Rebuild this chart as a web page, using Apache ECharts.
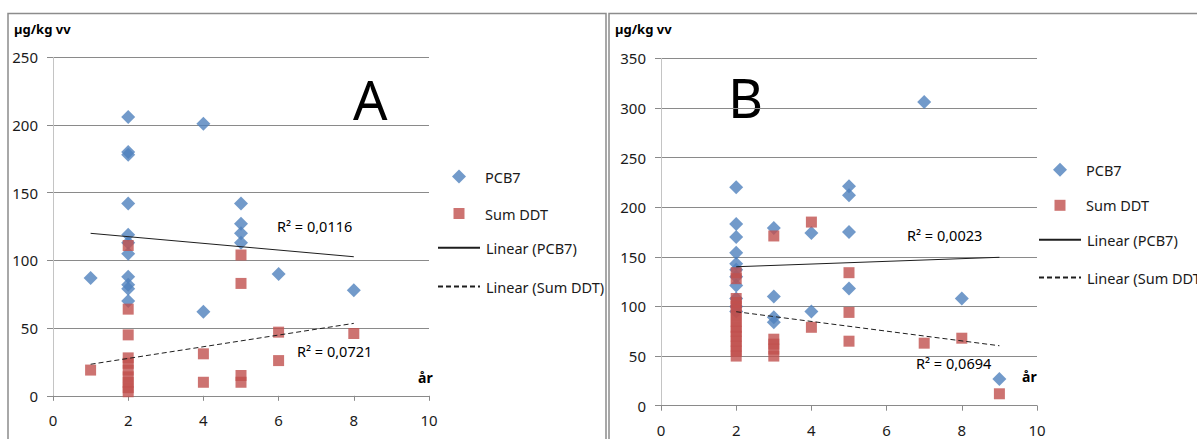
<!DOCTYPE html>
<html>
<head>
<meta charset="utf-8">
<script src="https://cdn.jsdelivr.net/npm/echarts@6/dist/echarts.min.js"></script>
<style>
  html, body { margin: 0; padding: 0; background: #fff; }
  #chart { width: 1197px; height: 439px; }
</style>
</head>
<body>
<div id="chart"></div>
<script>
// Panel A: age (år) vs concentration (µg/kg vv)
const pcbA = [
  [1, 87],
  [2, 206], [2, 180], [2, 178], [2, 142], [2, 119], [2, 113], [2, 105], [2, 88], [2, 82], [2, 79], [2, 70],
  [4, 201], [4, 62],
  [5, 142], [5, 127], [5, 120], [5, 113],
  [6, 90],
  [8, 78]
];
const ddtA = [
  [1, 19],
  [2, 111], [2, 64], [2, 45], [2, 28], [2, 24], [2, 19], [2, 14], [2, 10], [2, 6], [2, 3],
  [4, 31], [4, 10],
  [5, 104], [5, 83], [5, 15], [5, 10],
  [6, 47], [6, 26],
  [8, 46]
];
const pcbTrendA = [[1, 120], [8, 102.7]];
const ddtTrendA = [[1, 23.3], [8, 53.5]];
const r2A = ['R\u00b2 = 0,0116', 'R\u00b2 = 0,0721'];

// Panel B
const pcbB = [
  [2, 220], [2, 183], [2, 170], [2, 154], [2, 143], [2, 137], [2, 130], [2, 121], [2, 108], [2, 100], [2, 95],
  [3, 179], [3, 110], [3, 89], [3, 84],
  [4, 174], [4, 95],
  [5, 221], [5, 212], [5, 175], [5, 118],
  [7, 306],
  [8, 108],
  [9, 27]
];
const ddtB = [
  [2, 134], [2, 128], [2, 108], [2, 104], [2, 100], [2, 96], [2, 90], [2, 85], [2, 79], [2, 75], [2, 70], [2, 65], [2, 60], [2, 55], [2, 50],
  [3, 171], [3, 67], [3, 62], [3, 57], [3, 50],
  [4, 185], [4, 79],
  [5, 134], [5, 94], [5, 65],
  [7, 63],
  [8, 68],
  [9, 12]
];
const pcbTrendB = [[2, 140], [9, 149.5]];
const ddtTrendB = [[2, 94.7], [9, 60.4]];
const r2B = ['R\u00b2 = 0,0023', 'R\u00b2 = 0,0694'];

const yMaxA = 250, yMaxB = 350, yStep = 50;
const xMax = 10, xStep = 2;

const seriesNames = ['PCB7', 'Sum DDT', 'Linear (PCB7)', 'Linear (Sum DDT)'];
const unitLabel = '\u00b5g/kg vv';
const xLabel = '\u00e5r';

const FONT = '"Noto Sans", "DejaVu Sans", sans-serif';
const BLUE = '#4f81bd';
const RED = '#c0504d';
const TREND = '#1e1e1e';
const GRID = '#8a8a8a';

function xAxisCfg(gridIndex) {
  return {
    type: 'value', gridIndex, min: 0, max: xMax, interval: xStep,
    axisLine: { show: true, onZero: false, lineStyle: { color: GRID, width: 1 } },
    axisTick: { show: true, length: 5, lineStyle: { color: GRID } },
    splitLine: { show: false },
    axisLabel: { color: '#1a1a1a', fontFamily: FONT, fontSize: 15, margin: 17 }
  };
}
function yAxisCfg(gridIndex, max) {
  return {
    type: 'value', gridIndex, min: 0, max, interval: yStep,
    axisLine: { show: true, lineStyle: { color: '#c4c4c4', width: 1 } },
    axisTick: { show: true, length: 6, lineStyle: { color: GRID } },
    splitLine: { show: true, lineStyle: { color: GRID, width: 1 } },
    axisLabel: { color: '#1a1a1a', fontFamily: FONT, fontSize: 15, margin: 15 }
  };
}
function scatter(name, idx, data, symbol, size, color) {
  return {
    name, type: 'scatter', xAxisIndex: idx, yAxisIndex: idx, data,
    symbol, symbolSize: size, itemStyle: { color }, z: 3
  };
}
function trend(name, idx, data, dashed) {
  return {
    name, type: 'line', xAxisIndex: idx, yAxisIndex: idx, data,
    symbol: 'none', showSymbol: false, silent: true, z: 5,
    lineStyle: { color: TREND, width: 1, type: dashed ? [5, 3] : 'solid' },
    itemStyle: { color: TREND, opacity: 0 }
  };
}
// textPad shifts the label so all legend texts in a panel start at one x
function legendCfg(left, top, names, w, h, gap, textPad, extra) {
  return Object.assign({
    left, top, padding: 0, orient: 'vertical', itemWidth: w, itemHeight: h, itemGap: gap,
    data: names, selectedMode: false, symbolKeepAspect: true,
    textStyle: { color: '#1a1a1a', fontFamily: FONT, fontSize: 14.5, padding: [0, 0, 0, textPad] }
  }, extra || {});
}
function txt(x, y, text, size, weight, align) {
  return {
    type: 'text', left: x, top: y,
    style: { text, fill: '#000', font: (weight || 'normal') + ' ' + size + 'px ' + FONT, textAlign: align || 'left' }
  };
}

const chart = echarts.init(document.getElementById('chart'), null, { renderer: 'svg' });
chart.setOption({
  animation: false,
  backgroundColor: '#fff',
  grid: [
    { left: 53, top: 57.3, width: 376, height: 338.5 },
    { left: 661, top: 58.3, width: 376, height: 347.4 }
  ],
  xAxis: [xAxisCfg(0), xAxisCfg(1)],
  yAxis: [yAxisCfg(0, yMaxA), yAxisCfg(1, yMaxB)],
  legend: [
    legendCfg(452, 169, [seriesNames[0]], 14, 14, 10, 14),
    legendCfg(453.5, 206, [seriesNames[1]], 11, 11, 10, 15.5),
    legendCfg(437, 240.3, [seriesNames[2], seriesNames[3]], 42, 14, 23.7, 1, { itemStyle: { opacity: 0 } }),
    legendCfg(1053, 162.3, [seriesNames[0]], 14, 14, 10, 14),
    legendCfg(1054.5, 197.8, [seriesNames[1]], 11, 11, 10, 15.5),
    legendCfg(1038, 232.3, [seriesNames[2], seriesNames[3]], 42, 14, 22.7, 1, { itemStyle: { opacity: 0 } })
  ],
  series: [
    scatter(seriesNames[0], 0, pcbA, 'diamond', 14, BLUE),
    scatter(seriesNames[1], 0, ddtA, 'rect', 11, RED),
    trend(seriesNames[2], 0, pcbTrendA, false),
    trend(seriesNames[3], 0, ddtTrendA, true),
    scatter(seriesNames[0], 1, pcbB, 'diamond', 14, BLUE),
    scatter(seriesNames[1], 1, ddtB, 'rect', 11, RED),
    trend(seriesNames[2], 1, pcbTrendB, false),
    trend(seriesNames[3], 1, ddtTrendB, true)
  ],
  graphic: [
    // panel frames
    { type: 'rect', shape: { x: 8, y: 13.5, width: 598, height: 460 }, style: { fill: 'none', stroke: '#8c8c8c', lineWidth: 1.5 }, silent: true },
    { type: 'rect', shape: { x: 609, y: 13.5, width: 640, height: 460 }, style: { fill: 'none', stroke: '#8c8c8c', lineWidth: 1.5 }, silent: true },
    txt(14, 22, unitLabel, 13, 'bold'),
    txt(615, 22, unitLabel, 13, 'bold'),
    txt(418, 370, xLabel, 14, 'bold'),
    txt(1022, 369, xLabel, 14, 'bold'),
    txt(353, 72, 'A', 54),
    txt(728, 70, 'B', 54),
    txt(277, 218, r2A[0], 14.5),
    txt(297, 343, r2A[1], 14.5),
    txt(907, 227, r2B[0], 14.5),
    txt(916, 355, r2B[1], 14.5)
  ]
});
</script>
</body>
</html>
